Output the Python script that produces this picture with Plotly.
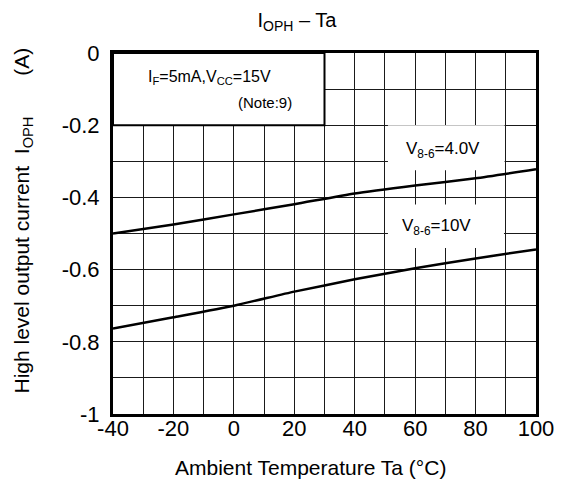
import plotly.graph_objects as go

# ---- data ----
temps = [-40, -20, 0, 20, 40, 60, 80, 100]
i_oph_4v = [-0.50, -0.475, -0.447, -0.419, -0.389, -0.367, -0.347, -0.322]
i_oph_10v = [-0.763, -0.732, -0.70, -0.661, -0.627, -0.596, -0.569, -0.544]

x_ticks = [-40, -20, 0, 20, 40, 60, 80, 100]
x_ticktext = ["-40", "-20", "0", "20", "40", "60", "80", "100"]
y_ticks = [0, -0.2, -0.4, -0.6, -0.8, -1]
y_ticktext = ["0", "-0.2", "-0.4", "-0.6", "-0.8", "-1"]

FONT = "Liberation Sans, Arial, sans-serif"
GRID = "#1a1a1a"
NB = "\u00a0"

fig = go.Figure()
for ys in (i_oph_4v, i_oph_10v):
    fig.add_trace(go.Scatter(x=temps, y=ys, mode="lines",
                             line=dict(color="black", width=2.5, shape="spline", smoothing=0.5),
                             showlegend=False, hoverinfo="skip"))

# white boxes hiding grid behind labels
fig.add_shape(type="rect", x0=-40, x1=30, y0=0, y1=-0.2, xref="x", yref="y",
              fillcolor="white", line=dict(color="black", width=2), layer="between")
fig.add_shape(type="rect", x0=51, x1=89.6, y0=-0.2, y1=-0.325, xref="x", yref="y",
              fillcolor="white", line=dict(width=0), layer="between")
fig.add_shape(type="rect", x0=51, x1=89.4, y0=-0.42, y1=-0.54, xref="x", yref="y",
              fillcolor="white", line=dict(width=0), layer="between")

fig.add_annotation(x=-8, y=-0.069, xref="x", yref="y", showarrow=False,
                   text="I<sub>F</sub>=5mA,V<sub>CC</sub>=15V",
                   font=dict(family=FONT, size=16, color="black"))
fig.add_annotation(x=10.3, y=-0.136, xref="x", yref="y", showarrow=False,
                   text="(Note:9)", font=dict(family=FONT, size=15, color="black"))
fig.add_annotation(x=69.2, y=-0.269, xref="x", yref="y", showarrow=False,
                   text="V<sub>8-6</sub>=4.0V", font=dict(family=FONT, size=17, color="black"))
fig.add_annotation(x=67.2, y=-0.482, xref="x", yref="y", showarrow=False,
                   text="V<sub>8-6</sub>=10V", font=dict(family=FONT, size=17, color="black"))

# axis titles
fig.add_annotation(x=(310 - 113) / 423, y=(414 - 467) / 361, xref="paper", yref="paper",
                   showarrow=False, xanchor="center", yanchor="middle",
                   text="Ambient Temperature Ta (°C)",
                   font=dict(family=FONT, size=21, color="black"))
fig.add_annotation(x=(22 - 113) / 423, y=(414 - 220.5) / 361, xref="paper", yref="paper",
                   showarrow=False, xanchor="center", yanchor="middle", textangle=-90,
                   text="High level output current" + NB * 2 + "I<sub>OPH</sub>" + NB * 7 + "(A)",
                   font=dict(family=FONT, size=21, color="black"))

fig.update_layout(
    width=565, height=480,
    margin=dict(l=113, r=29, t=53, b=66),
    paper_bgcolor="white", plot_bgcolor="white",
    font=dict(family=FONT, color="black"),
    title=dict(text="I<sub>OPH</sub> – Ta", x=297 / 565, xref="container", xanchor="center",
               y=1 - 20 / 480, yref="container", yanchor="middle",
               font=dict(family=FONT, size=20, color="black")),
    xaxis=dict(range=[-40, 100], tickmode="array", tickvals=x_ticks, ticktext=x_ticktext,
               showgrid=True, gridcolor=GRID, gridwidth=1.2,
               minor=dict(tickmode="linear", tick0=0, dtick=10, showgrid=True,
                          gridcolor=GRID, gridwidth=1.2, ticks=""),
               showline=True, linecolor="black", linewidth=3, mirror=True,
               ticks="", zeroline=False, ticklabelstandoff=-7,
               tickfont=dict(family=FONT, size=22, color="black")),
    yaxis=dict(range=[-1, 0], tickmode="array", tickvals=y_ticks, ticktext=y_ticktext,
               showgrid=True, gridcolor=GRID, gridwidth=1.2,
               minor=dict(tickmode="linear", tick0=0, dtick=0.1, showgrid=True,
                          gridcolor=GRID, gridwidth=1.2, ticks=""),
               showline=True, linecolor="black", linewidth=3, mirror=True,
               ticks="outside", ticklen=6, tickcolor="rgba(0,0,0,0)",
               zeroline=False, tickfont=dict(family=FONT, size=22, color="black")),
)

fig.write_html("out.html", config={"displayModeBar": False},
               post_script="document.body.style.margin='0';")
